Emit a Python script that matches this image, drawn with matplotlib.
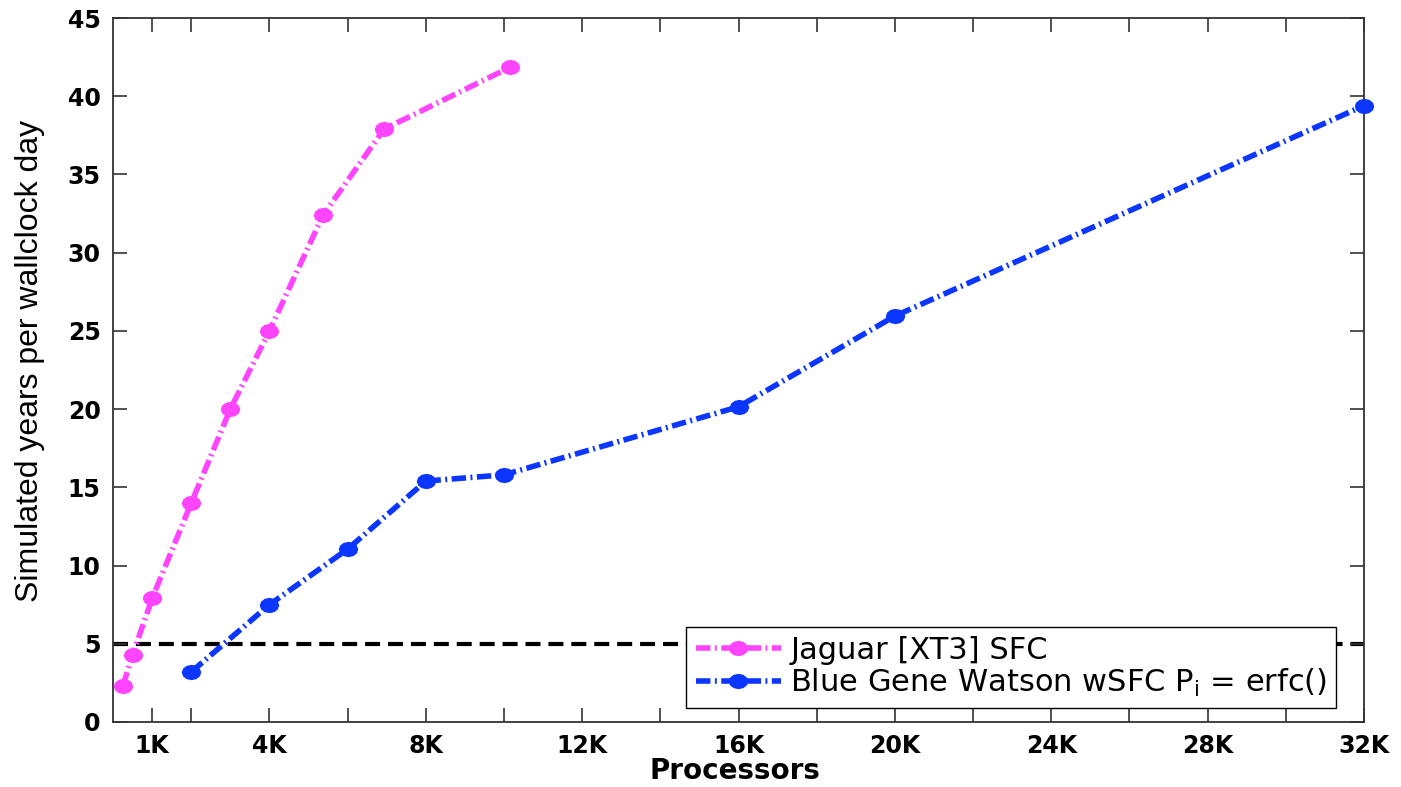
import numpy as np
import matplotlib
matplotlib.use("Agg")
import matplotlib.pyplot as plt
from matplotlib.path import Path
from matplotlib import font_manager as fm

# processors vs. simulated years per wallclock day
jaguar_procs = [256, 512, 1024, 2048, 3072, 4096, 5500, 7100, 10400]
jaguar_years = [2.3, 4.3, 7.9, 14.0, 20.0, 25.0, 32.4, 37.9, 41.85]

bgw_procs = [2048, 4096, 6144, 8192, 10240, 16384, 20480, 32768]
bgw_years = [3.2, 7.5, 11.05, 15.4, 15.8, 20.15, 25.95, 39.4]

threshold = 5

xtick_vals = [1024] + [2048 * k for k in range(1, 17)]
xtick_labels = ['1K', '', '4K', '', '8K', '', '12K', '', '16K', '',
                '20K', '', '24K', '', '28K', '', '32K']
ytick_vals = list(range(0, 50, 5))

names = {f.name for f in fm.fontManager.ttflist}
narrow = 'Liberation Sans Narrow' if 'Liberation Sans Narrow' in names else 'Liberation Sans'
ylab_size = 27 if narrow == 'Liberation Sans Narrow' else 23

# slightly wide octagon-ish marker
t = np.linspace(0, 2 * np.pi, 13)[:-1]
verts = np.column_stack([1.3 * np.cos(t), np.sin(t)])
blob = Path(np.vstack([verts, verts[:1]]), closed=True)

dashdot = (0, (2.6, 0.8, 0.35, 0.8))

fig = plt.figure(figsize=(14.01, 7.87), dpi=100)
ax = fig.add_axes([0.0807, 0.0826, 0.8929, 0.8945])

ax.axhline(threshold, color='black', lw=3.0, ls=(0, (3.6, 1.9)), zorder=1)

ax.plot(jaguar_procs, jaguar_years, color='#ff44ff', lw=4.0, ls=dashdot,
        marker=blob, ms=13, mec='#ff44ff', mfc='#ff44ff',
        label='Jaguar [XT3] SFC', clip_on=False, zorder=3)
ax.plot(bgw_procs, bgw_years, color='#0a36ff', lw=4.0, ls=dashdot,
        marker=blob, ms=13, mec='#0a36ff', mfc='#0a36ff',
        label='Blue Gene Watson wSFC P$_\\mathregular{i}$ = erfc()',
        clip_on=False, zorder=3)

ax.set_xlim(0, 32768)
ax.set_ylim(0, 45)
ax.set_xticks(xtick_vals)
ax.set_xticklabels(xtick_labels)
ax.set_yticks(ytick_vals)

ax.tick_params(axis='both', direction='in', length=10, width=1.2,
               top=True, right=True, labelsize=17, pad=9, color='#333333')
for lab in ax.get_xticklabels() + ax.get_yticklabels():
    lab.set_fontfamily('DejaVu Sans')
    lab.set_fontweight('bold')
for sp in ax.spines.values():
    sp.set_linewidth(1.3)
    sp.set_color('#333333')

ax.set_xlabel('Processors', fontsize=20, fontweight='bold',
              family='DejaVu Sans', va='center')
ax.xaxis.set_label_coords(0.497, -0.0696)
ax.set_ylabel('Simulated years per wallclock day', fontsize=ylab_size,
              family=narrow, va='center')
ax.yaxis.set_label_coords(-0.066, 0.513)

leg = ax.legend(loc='lower right', bbox_to_anchor=(0.978, 0.02),
                prop={'family': 'DejaVu Sans', 'size': 22},
                handlelength=2.8, handletextpad=0.3, labelspacing=0.05,
                borderpad=0.3, borderaxespad=0, fancybox=False,
                framealpha=1, edgecolor='black')
leg.get_frame().set_linewidth(1.0)

fig.savefig('out.png', dpi=100, facecolor='white')
